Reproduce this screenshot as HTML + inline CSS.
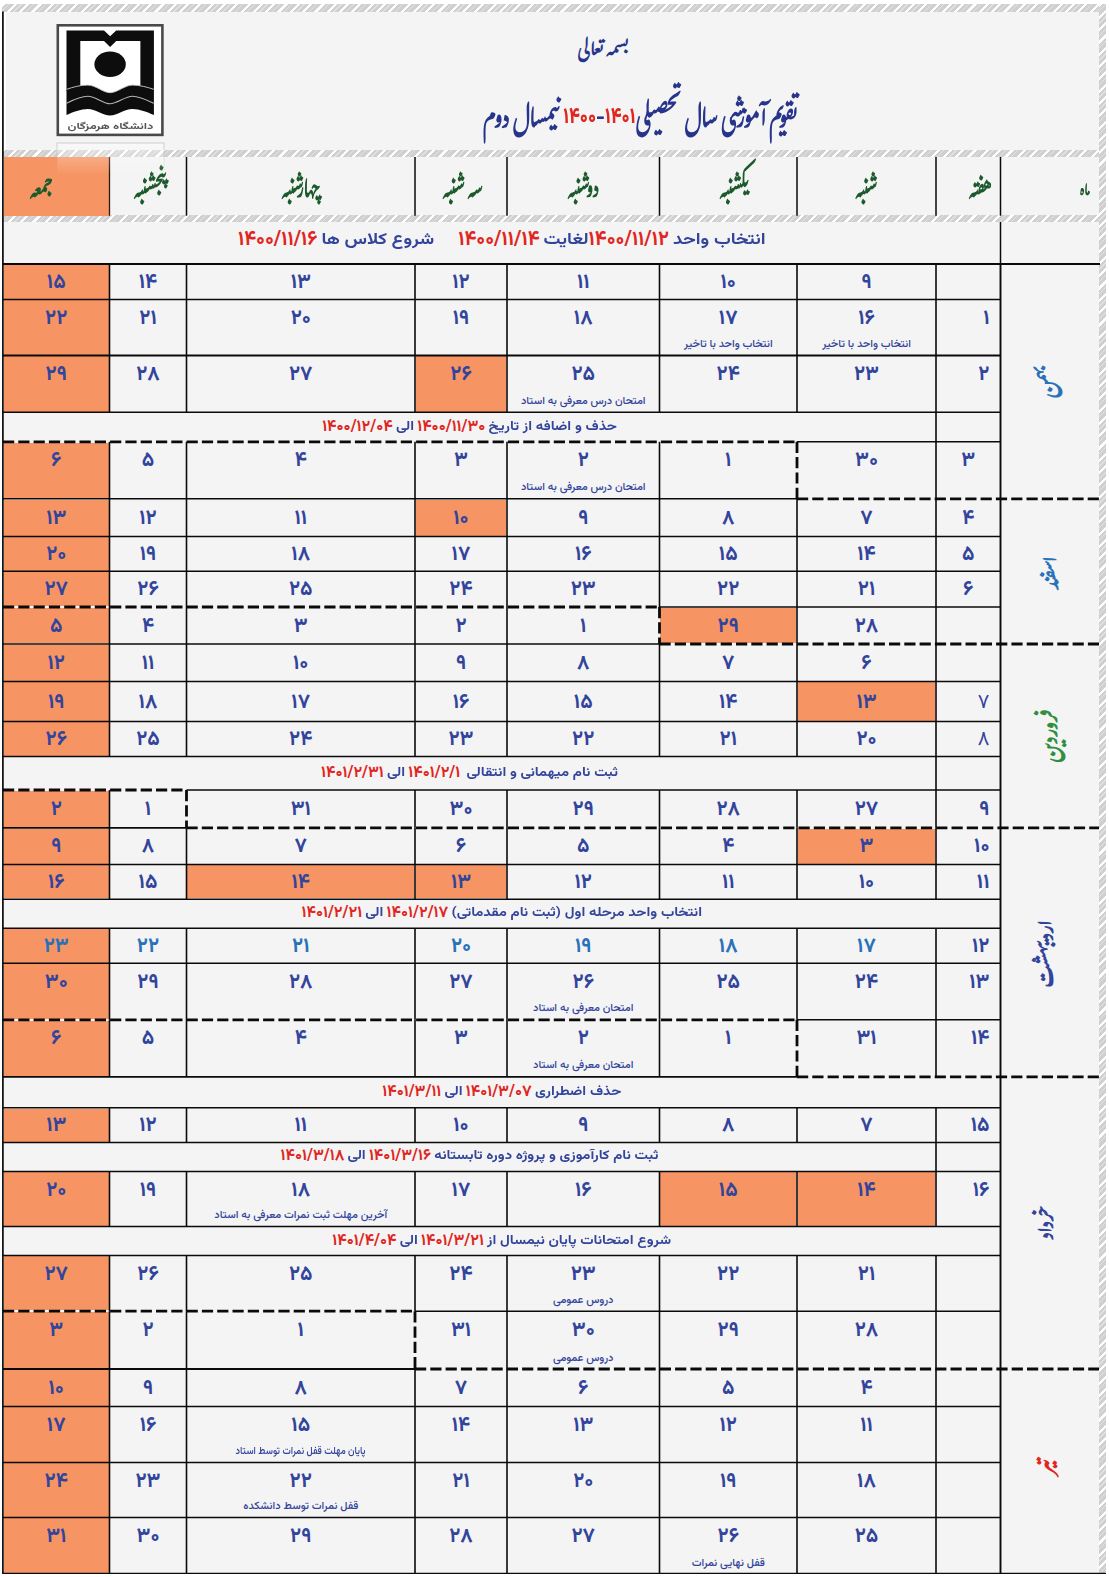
<!DOCTYPE html>
<html lang="fa"><head><meta charset="utf-8"><title>تقویم آموزشی</title>
<style>
html,body{margin:0;padding:0;background:#fff;}
body{width:1109px;height:1577px;position:relative;overflow:hidden;font-family:"Vazirmatn","Liberation Sans","DejaVu Sans",sans-serif;}
#pg{position:absolute;left:0;top:0;width:1109px;height:1577px;overflow:hidden;}
#pg div{position:absolute;}
.bg{background:#f4f4f4;}
.or{background:#f69563;}
.ln{background:#0a0a0a;}
.hd{background:repeating-linear-gradient(90deg,#0a0a0a 0 11px,transparent 11px 15.3px);}
.vd{background:repeating-linear-gradient(180deg,#0a0a0a 0 11px,transparent 11px 15.3px);}
.hat,.hatv{background:repeating-linear-gradient(135deg,#fff 0 2.2px,#d0d0d0 2.2px 4.6px,#e2e2e2 4.6px 5.6px,#d0d0d0 5.6px 8.7px);}
.num{color:#32449b;font-weight:660;font-size:20.5px;line-height:40px;text-align:center;direction:rtl;white-space:nowrap;}
.num.br{color:#2a72b8;}
.note{color:#32449b;font-family:"Vazirmatn","DejaVu Sans",sans-serif;font-weight:500;font-size:11px;line-height:18px;text-align:center;direction:rtl;white-space:nowrap;}
.info{color:#32449b;font-family:"Vazirmatn","DejaVu Sans",sans-serif;font-weight:700;font-size:12.6px;text-align:center;direction:rtl;white-space:nowrap;display:flex;align-items:center;justify-content:center;}
.note .cn{display:inline-block;font-style:normal;transform:scaleX(0.85);}
.info b.r{color:#e0261e;font-weight:700;font-size:1.27em;}
.info .t{display:inline-block;font-size:1.18em;transform:scaleY(0.85);}
.hc{color:#1c5a2c;font-family:"Gulzar","Noto Nastaliq Urdu","DejaVu Sans",sans-serif;font-size:19px;line-height:58px;text-align:center;direction:rtl;white-space:nowrap;font-weight:700;transform:scaleY(1.34);}
.ln2{background:#5a3a2a;}
.mon{font-family:"Gulzar","Noto Nastaliq Urdu","DejaVu Sans",sans-serif;font-size:22px;line-height:40px;text-align:center;direction:rtl;white-space:nowrap;transform:rotate(-90deg);font-weight:700;}
.ttl{color:#27348b;font-family:"Gulzar","Noto Nastaliq Urdu","DejaVu Sans",sans-serif;direction:rtl;white-space:nowrap;text-align:center;font-weight:700;}
.tn{font-family:"Vazirmatn","DejaVu Sans",sans-serif;font-weight:800;font-size:22px;font-style:normal;position:relative;top:-4px;}
b.tn{color:#e0261e;}
</style></head><body><div id="pg">
<div class="bg" style="left:6px;top:11.5px;width:1093.5px;height:140px;"></div>
<div class="bg" style="left:4px;top:157px;width:1095.5px;height:59px;"></div>
<div class="bg" style="left:4px;top:222px;width:1095.5px;height:1352px;"></div>
<div class="hat" style="left:2px;top:4px;width:1104px;height:7.6px;"></div>
<div class="hat" style="left:2px;top:150px;width:1104px;height:7.3px;"></div>
<div class="hat" style="left:2px;top:215px;width:1104px;height:7px;"></div>
<div class="hatv" style="left:1098.8px;top:4px;width:7.4px;height:1570px;"></div>
<div class="or" style="left:4px;top:157px;width:105.5px;height:58.7px;"></div>
<div class="hc" style="left:-9px;top:163.5px;width:100px;height:58.7px;"><span>جمعه</span></div>
<div class="hc" style="left:100px;top:163.5px;width:100px;height:58.7px;"><span>پنجشنبه</span></div>
<div class="hc" style="left:251px;top:163.5px;width:100px;height:58.7px;"><span>چهارشنبه</span></div>
<div class="hc" style="left:412.5px;top:163.5px;width:100px;height:58.7px;"><span>سه شنبه</span></div>
<div class="hc" style="left:533px;top:163.5px;width:100px;height:58.7px;"><span>دوشنبه</span></div>
<div class="hc" style="left:684px;top:163.5px;width:100px;height:58.7px;"><span>یکشنبه</span></div>
<div class="hc" style="left:816px;top:163.5px;width:100px;height:58.7px;"><span>شنبه</span></div>
<div class="hc" style="left:930px;top:163.5px;width:100px;height:58.7px;"><span>هفته</span></div>
<div class="hc" style="left:1035px;top:163.5px;width:100px;height:58.7px;font-size:15px;transform:scaleY(1.1);"><span>ماه</span></div>
<div class="info" style="left:3px;top:219px;width:997.5px;height:42px;font-size:15.85px;"><span><span class="t">انتخاب واحد</span> <b class="r">۱۴۰۰/۱۱/۱۲</b><span class="t">لغایت</span> <b class="r">۱۴۰۰/۱۱/۱۴</b>&nbsp;&nbsp;&nbsp;&nbsp;&nbsp; <span class="t">شروع کلاس ها</span> <b class="r">۱۴۰۰/۱۱/۱۶</b></span></div>
<div class="or" style="left:4px;top:264.75px;width:105px;height:34px;"></div>
<div class="num" style="left:3px;top:262.75px;width:106.5px;height:40px;"><span>۱۵</span></div>
<div class="num" style="left:109.5px;top:262.75px;width:77px;height:40px;"><span>۱۴</span></div>
<div class="num" style="left:186.5px;top:262.75px;width:228.5px;height:40px;"><span>۱۳</span></div>
<div class="num" style="left:415px;top:262.75px;width:92px;height:40px;"><span>۱۲</span></div>
<div class="num" style="left:507px;top:262.75px;width:152.5px;height:40px;"><span>۱۱</span></div>
<div class="num" style="left:659.5px;top:262.75px;width:137.5px;height:40px;"><span>۱۰</span></div>
<div class="num" style="left:797px;top:262.75px;width:139px;height:40px;"><span>۹</span></div>
<div class="or" style="left:4px;top:300.25px;width:105px;height:54.5px;"></div>
<div class="num" style="left:3px;top:298.8px;width:106.5px;height:40px;"><span>۲۲</span></div>
<div class="num" style="left:109.5px;top:298.8px;width:77px;height:40px;"><span>۲۱</span></div>
<div class="num" style="left:186.5px;top:298.8px;width:228.5px;height:40px;"><span>۲۰</span></div>
<div class="num" style="left:415px;top:298.8px;width:92px;height:40px;"><span>۱۹</span></div>
<div class="num" style="left:507px;top:298.8px;width:152.5px;height:40px;"><span>۱۸</span></div>
<div class="num" style="left:659.5px;top:298.8px;width:137.5px;height:40px;"><span>۱۷</span></div>
<div class="note" style="left:629.5px;top:336px;width:197.5px;height:18px;"><span>انتخاب واحد با تاخیر</span></div>
<div class="num" style="left:797px;top:298.8px;width:139px;height:40px;"><span>۱۶</span></div>
<div class="note" style="left:767px;top:336px;width:199px;height:18px;"><span>انتخاب واحد با تاخیر</span></div>
<div class="num" style="left:936px;top:298.8px;width:64.5px;height:40px;text-align:right;padding-right:11px;box-sizing:border-box;"><span>۱</span></div>
<div class="or" style="left:4px;top:356.25px;width:105px;height:55.3px;"></div>
<div class="or" style="left:415.75px;top:356.25px;width:90.5px;height:55.3px;"></div>
<div class="num" style="left:3px;top:354.8px;width:106.5px;height:40px;"><span>۲۹</span></div>
<div class="num" style="left:109.5px;top:354.8px;width:77px;height:40px;"><span>۲۸</span></div>
<div class="num" style="left:186.5px;top:354.8px;width:228.5px;height:40px;"><span>۲۷</span></div>
<div class="num" style="left:415px;top:354.8px;width:92px;height:40px;"><span>۲۶</span></div>
<div class="num" style="left:507px;top:354.8px;width:152.5px;height:40px;"><span>۲۵</span></div>
<div class="note" style="left:477px;top:392.8px;width:212.5px;height:18px;"><span>امتحان درس معرفی به استاد</span></div>
<div class="num" style="left:659.5px;top:354.8px;width:137.5px;height:40px;"><span>۲۴</span></div>
<div class="num" style="left:797px;top:354.8px;width:139px;height:40px;"><span>۲۳</span></div>
<div class="num" style="left:936px;top:354.8px;width:64.5px;height:40px;text-align:right;padding-right:11px;box-sizing:border-box;"><span>۲</span></div>
<div class="info" style="left:3px;top:412.3px;width:933px;height:29.5px;"><span><span class="t">حذف و اضافه از تاریخ</span> <b class="r">۱۴۰۰/۱۱/۳۰</b> <span class="t">الی</span> <b class="r">۱۴۰۰/۱۲/۰۴</b></span></div>
<div class="or" style="left:4px;top:442.55px;width:105px;height:55.5px;"></div>
<div class="num" style="left:3px;top:441.1px;width:106.5px;height:40px;"><span>۶</span></div>
<div class="num" style="left:109.5px;top:441.1px;width:77px;height:40px;"><span>۵</span></div>
<div class="num" style="left:186.5px;top:441.1px;width:228.5px;height:40px;"><span>۴</span></div>
<div class="num" style="left:415px;top:441.1px;width:92px;height:40px;"><span>۳</span></div>
<div class="num" style="left:507px;top:441.1px;width:152.5px;height:40px;"><span>۲</span></div>
<div class="note" style="left:477px;top:479.3px;width:212.5px;height:18px;"><span>امتحان درس  معرفی به استاد</span></div>
<div class="num" style="left:659.5px;top:441.1px;width:137.5px;height:40px;"><span>۱</span></div>
<div class="num" style="left:797px;top:441.1px;width:139px;height:40px;"><span>۳۰</span></div>
<div class="num" style="left:936px;top:441.1px;width:64.5px;height:40px;"><span>۳</span></div>
<div class="or" style="left:4px;top:499.55px;width:105px;height:36.3px;"></div>
<div class="or" style="left:415.75px;top:499.55px;width:90.5px;height:36.3px;"></div>
<div class="num" style="left:3px;top:498.7px;width:106.5px;height:40px;"><span>۱۳</span></div>
<div class="num" style="left:109.5px;top:498.7px;width:77px;height:40px;"><span>۱۲</span></div>
<div class="num" style="left:186.5px;top:498.7px;width:228.5px;height:40px;"><span>۱۱</span></div>
<div class="num" style="left:415px;top:498.7px;width:92px;height:40px;"><span>۱۰</span></div>
<div class="num" style="left:507px;top:498.7px;width:152.5px;height:40px;"><span>۹</span></div>
<div class="num" style="left:659.5px;top:498.7px;width:137.5px;height:40px;"><span>۸</span></div>
<div class="num" style="left:797px;top:498.7px;width:139px;height:40px;"><span>۷</span></div>
<div class="num" style="left:936px;top:498.7px;width:64.5px;height:40px;"><span>۴</span></div>
<div class="or" style="left:4px;top:537.35px;width:105px;height:33.2px;"></div>
<div class="num" style="left:3px;top:534.95px;width:106.5px;height:40px;"><span>۲۰</span></div>
<div class="num" style="left:109.5px;top:534.95px;width:77px;height:40px;"><span>۱۹</span></div>
<div class="num" style="left:186.5px;top:534.95px;width:228.5px;height:40px;"><span>۱۸</span></div>
<div class="num" style="left:415px;top:534.95px;width:92px;height:40px;"><span>۱۷</span></div>
<div class="num" style="left:507px;top:534.95px;width:152.5px;height:40px;"><span>۱۶</span></div>
<div class="num" style="left:659.5px;top:534.95px;width:137.5px;height:40px;"><span>۱۵</span></div>
<div class="num" style="left:797px;top:534.95px;width:139px;height:40px;"><span>۱۴</span></div>
<div class="num" style="left:936px;top:534.95px;width:64.5px;height:40px;"><span>۵</span></div>
<div class="or" style="left:4px;top:572.05px;width:105px;height:34.2px;"></div>
<div class="num" style="left:3px;top:570.15px;width:106.5px;height:40px;"><span>۲۷</span></div>
<div class="num" style="left:109.5px;top:570.15px;width:77px;height:40px;"><span>۲۶</span></div>
<div class="num" style="left:186.5px;top:570.15px;width:228.5px;height:40px;"><span>۲۵</span></div>
<div class="num" style="left:415px;top:570.15px;width:92px;height:40px;"><span>۲۴</span></div>
<div class="num" style="left:507px;top:570.15px;width:152.5px;height:40px;"><span>۲۳</span></div>
<div class="num" style="left:659.5px;top:570.15px;width:137.5px;height:40px;"><span>۲۲</span></div>
<div class="num" style="left:797px;top:570.15px;width:139px;height:40px;"><span>۲۱</span></div>
<div class="num" style="left:936px;top:570.15px;width:64.5px;height:40px;"><span>۶</span></div>
<div class="or" style="left:4px;top:607.75px;width:105px;height:35.5px;"></div>
<div class="or" style="left:660.25px;top:607.75px;width:136px;height:35.5px;"></div>
<div class="num" style="left:3px;top:606.5px;width:106.5px;height:40px;"><span>۵</span></div>
<div class="num" style="left:109.5px;top:606.5px;width:77px;height:40px;"><span>۴</span></div>
<div class="num" style="left:186.5px;top:606.5px;width:228.5px;height:40px;"><span>۳</span></div>
<div class="num" style="left:415px;top:606.5px;width:92px;height:40px;"><span>۲</span></div>
<div class="num" style="left:507px;top:606.5px;width:152.5px;height:40px;"><span>۱</span></div>
<div class="num" style="left:659.5px;top:606.5px;width:137.5px;height:40px;"><span>۲۹</span></div>
<div class="num" style="left:797px;top:606.5px;width:139px;height:40px;"><span>۲۸</span></div>
<div class="or" style="left:4px;top:644.75px;width:105px;height:36.1px;"></div>
<div class="num" style="left:3px;top:643.8px;width:106.5px;height:40px;"><span>۱۲</span></div>
<div class="num" style="left:109.5px;top:643.8px;width:77px;height:40px;"><span>۱۱</span></div>
<div class="num" style="left:186.5px;top:643.8px;width:228.5px;height:40px;"><span>۱۰</span></div>
<div class="num" style="left:415px;top:643.8px;width:92px;height:40px;"><span>۹</span></div>
<div class="num" style="left:507px;top:643.8px;width:152.5px;height:40px;"><span>۸</span></div>
<div class="num" style="left:659.5px;top:643.8px;width:137.5px;height:40px;"><span>۷</span></div>
<div class="num" style="left:797px;top:643.8px;width:139px;height:40px;"><span>۶</span></div>
<div class="or" style="left:4px;top:682.35px;width:105px;height:38.5px;"></div>
<div class="or" style="left:797.75px;top:682.35px;width:137.5px;height:38.5px;"></div>
<div class="num" style="left:3px;top:682.6px;width:106.5px;height:40px;"><span>۱۹</span></div>
<div class="num" style="left:109.5px;top:682.6px;width:77px;height:40px;"><span>۱۸</span></div>
<div class="num" style="left:186.5px;top:682.6px;width:228.5px;height:40px;"><span>۱۷</span></div>
<div class="num" style="left:415px;top:682.6px;width:92px;height:40px;"><span>۱۶</span></div>
<div class="num" style="left:507px;top:682.6px;width:152.5px;height:40px;"><span>۱۵</span></div>
<div class="num" style="left:659.5px;top:682.6px;width:137.5px;height:40px;"><span>۱۴</span></div>
<div class="num" style="left:797px;top:682.6px;width:139px;height:40px;"><span>۱۳</span></div>
<div class="num" style="left:936px;top:682.6px;width:64.5px;height:40px;text-align:right;padding-right:11px;box-sizing:border-box;font-weight:400;"><span>۷</span></div>
<div class="or" style="left:4px;top:722.35px;width:105px;height:33.4px;"></div>
<div class="num" style="left:3px;top:720.05px;width:106.5px;height:40px;"><span>۲۶</span></div>
<div class="num" style="left:109.5px;top:720.05px;width:77px;height:40px;"><span>۲۵</span></div>
<div class="num" style="left:186.5px;top:720.05px;width:228.5px;height:40px;"><span>۲۴</span></div>
<div class="num" style="left:415px;top:720.05px;width:92px;height:40px;"><span>۲۳</span></div>
<div class="num" style="left:507px;top:720.05px;width:152.5px;height:40px;"><span>۲۲</span></div>
<div class="num" style="left:659.5px;top:720.05px;width:137.5px;height:40px;"><span>۲۱</span></div>
<div class="num" style="left:797px;top:720.05px;width:139px;height:40px;"><span>۲۰</span></div>
<div class="num" style="left:936px;top:720.05px;width:64.5px;height:40px;text-align:right;padding-right:11px;box-sizing:border-box;font-weight:400;"><span>۸</span></div>
<div class="info" style="left:3px;top:756.5px;width:933px;height:33.5px;"><span><span class="t">ثبت نام میهمانی و انتقالی</span>&nbsp; <b class="r">۱۴۰۱/۲/۱</b> <span class="t">الی</span> <b class="r">۱۴۰۱/۲/۳۱</b></span></div>
<div class="or" style="left:4px;top:790.75px;width:105px;height:36.3px;"></div>
<div class="num" style="left:3px;top:789.9px;width:106.5px;height:40px;"><span>۲</span></div>
<div class="num" style="left:109.5px;top:789.9px;width:77px;height:40px;"><span>۱</span></div>
<div class="num" style="left:186.5px;top:789.9px;width:228.5px;height:40px;"><span>۳۱</span></div>
<div class="num" style="left:415px;top:789.9px;width:92px;height:40px;"><span>۳۰</span></div>
<div class="num" style="left:507px;top:789.9px;width:152.5px;height:40px;"><span>۲۹</span></div>
<div class="num" style="left:659.5px;top:789.9px;width:137.5px;height:40px;"><span>۲۸</span></div>
<div class="num" style="left:797px;top:789.9px;width:139px;height:40px;"><span>۲۷</span></div>
<div class="num" style="left:936px;top:789.9px;width:64.5px;height:40px;text-align:right;padding-right:11px;box-sizing:border-box;"><span>۹</span></div>
<div class="or" style="left:4px;top:828.55px;width:105px;height:35.1px;"></div>
<div class="or" style="left:797.75px;top:828.55px;width:137.5px;height:35.1px;"></div>
<div class="num" style="left:3px;top:827.1px;width:106.5px;height:40px;"><span>۹</span></div>
<div class="num" style="left:109.5px;top:827.1px;width:77px;height:40px;"><span>۸</span></div>
<div class="num" style="left:186.5px;top:827.1px;width:228.5px;height:40px;"><span>۷</span></div>
<div class="num" style="left:415px;top:827.1px;width:92px;height:40px;"><span>۶</span></div>
<div class="num" style="left:507px;top:827.1px;width:152.5px;height:40px;"><span>۵</span></div>
<div class="num" style="left:659.5px;top:827.1px;width:137.5px;height:40px;"><span>۴</span></div>
<div class="num" style="left:797px;top:827.1px;width:139px;height:40px;"><span>۳</span></div>
<div class="num" style="left:936px;top:827.1px;width:64.5px;height:40px;text-align:right;padding-right:11px;box-sizing:border-box;"><span>۱۰</span></div>
<div class="or" style="left:4px;top:865.15px;width:105px;height:33.3px;"></div>
<div class="or" style="left:187.25px;top:865.15px;width:227px;height:33.3px;"></div>
<div class="or" style="left:415.75px;top:865.15px;width:90.5px;height:33.3px;"></div>
<div class="num" style="left:3px;top:862.8px;width:106.5px;height:40px;"><span>۱۶</span></div>
<div class="num" style="left:109.5px;top:862.8px;width:77px;height:40px;"><span>۱۵</span></div>
<div class="num" style="left:186.5px;top:862.8px;width:228.5px;height:40px;"><span>۱۴</span></div>
<div class="num" style="left:415px;top:862.8px;width:92px;height:40px;"><span>۱۳</span></div>
<div class="num" style="left:507px;top:862.8px;width:152.5px;height:40px;"><span>۱۲</span></div>
<div class="num" style="left:659.5px;top:862.8px;width:137.5px;height:40px;"><span>۱۱</span></div>
<div class="num" style="left:797px;top:862.8px;width:139px;height:40px;"><span>۱۰</span></div>
<div class="num" style="left:936px;top:862.8px;width:64.5px;height:40px;text-align:right;padding-right:11px;box-sizing:border-box;"><span>۱۱</span></div>
<div class="info" style="left:3px;top:899.2px;width:997.5px;height:29.1px;"><span><span class="t">انتخاب واحد مرحله اول (ثبت نام مقدماتی)</span> <b class="r">۱۴۰۱/۲/۱۷</b> <span class="t">الی</span> <b class="r">۱۴۰۱/۲/۲۱</b></span></div>
<div class="or" style="left:4px;top:929.05px;width:105px;height:33.5px;"></div>
<div class="num br" style="left:3px;top:926.8px;width:106.5px;height:40px;"><span>۲۳</span></div>
<div class="num br" style="left:109.5px;top:926.8px;width:77px;height:40px;"><span>۲۲</span></div>
<div class="num br" style="left:186.5px;top:926.8px;width:228.5px;height:40px;"><span>۲۱</span></div>
<div class="num br" style="left:415px;top:926.8px;width:92px;height:40px;"><span>۲۰</span></div>
<div class="num br" style="left:507px;top:926.8px;width:152.5px;height:40px;"><span>۱۹</span></div>
<div class="num br" style="left:659.5px;top:926.8px;width:137.5px;height:40px;"><span>۱۸</span></div>
<div class="num br" style="left:797px;top:926.8px;width:139px;height:40px;"><span>۱۷</span></div>
<div class="num" style="left:936px;top:926.8px;width:64.5px;height:40px;text-align:right;padding-right:11px;box-sizing:border-box;"><span>۱۲</span></div>
<div class="or" style="left:4px;top:964.05px;width:105px;height:55px;"></div>
<div class="num" style="left:3px;top:962.6px;width:106.5px;height:40px;"><span>۳۰</span></div>
<div class="num" style="left:109.5px;top:962.6px;width:77px;height:40px;"><span>۲۹</span></div>
<div class="num" style="left:186.5px;top:962.6px;width:228.5px;height:40px;"><span>۲۸</span></div>
<div class="num" style="left:415px;top:962.6px;width:92px;height:40px;"><span>۲۷</span></div>
<div class="num" style="left:507px;top:962.6px;width:152.5px;height:40px;"><span>۲۶</span></div>
<div class="note" style="left:477px;top:1000.3px;width:212.5px;height:18px;"><span>امتحان معرفی به استاد</span></div>
<div class="num" style="left:659.5px;top:962.6px;width:137.5px;height:40px;"><span>۲۵</span></div>
<div class="num" style="left:797px;top:962.6px;width:139px;height:40px;"><span>۲۴</span></div>
<div class="num" style="left:936px;top:962.6px;width:64.5px;height:40px;text-align:right;padding-right:11px;box-sizing:border-box;"><span>۱۳</span></div>
<div class="or" style="left:4px;top:1020.55px;width:105px;height:55.5px;"></div>
<div class="num" style="left:3px;top:1019.1px;width:106.5px;height:40px;"><span>۶</span></div>
<div class="num" style="left:109.5px;top:1019.1px;width:77px;height:40px;"><span>۵</span></div>
<div class="num" style="left:186.5px;top:1019.1px;width:228.5px;height:40px;"><span>۴</span></div>
<div class="num" style="left:415px;top:1019.1px;width:92px;height:40px;"><span>۳</span></div>
<div class="num" style="left:507px;top:1019.1px;width:152.5px;height:40px;"><span>۲</span></div>
<div class="note" style="left:477px;top:1057.3px;width:212.5px;height:18px;"><span>امتحان معرفی به استاد</span></div>
<div class="num" style="left:659.5px;top:1019.1px;width:137.5px;height:40px;"><span>۱</span></div>
<div class="num" style="left:797px;top:1019.1px;width:139px;height:40px;"><span>۳۱</span></div>
<div class="num" style="left:936px;top:1019.1px;width:64.5px;height:40px;text-align:right;padding-right:11px;box-sizing:border-box;"><span>۱۴</span></div>
<div class="info" style="left:3px;top:1076.8px;width:997.5px;height:31px;"><span><span class="t">حذف اضطراری</span> <b class="r">۱۴۰۱/۳/۰۷</b> <span class="t">الی</span> <b class="r">۱۴۰۱/۳/۱۱</b></span></div>
<div class="or" style="left:4px;top:1108.55px;width:105px;height:33.1px;"></div>
<div class="num" style="left:3px;top:1106.1px;width:106.5px;height:40px;"><span>۱۳</span></div>
<div class="num" style="left:109.5px;top:1106.1px;width:77px;height:40px;"><span>۱۲</span></div>
<div class="num" style="left:186.5px;top:1106.1px;width:228.5px;height:40px;"><span>۱۱</span></div>
<div class="num" style="left:415px;top:1106.1px;width:92px;height:40px;"><span>۱۰</span></div>
<div class="num" style="left:507px;top:1106.1px;width:152.5px;height:40px;"><span>۹</span></div>
<div class="num" style="left:659.5px;top:1106.1px;width:137.5px;height:40px;"><span>۸</span></div>
<div class="num" style="left:797px;top:1106.1px;width:139px;height:40px;"><span>۷</span></div>
<div class="num" style="left:936px;top:1106.1px;width:64.5px;height:40px;text-align:right;padding-right:11px;box-sizing:border-box;"><span>۱۵</span></div>
<div class="info" style="left:3px;top:1142.4px;width:933px;height:29.1px;"><span><span class="t">ثبت نام کارآموزی و پروژه دوره تابستانه</span> <b class="r">۱۴۰۱/۳/۱۶</b> <span class="t">الی</span> <b class="r">۱۴۰۱/۳/۱۸</b></span></div>
<div class="or" style="left:4px;top:1172.25px;width:105px;height:53.5px;"></div>
<div class="or" style="left:660.25px;top:1172.25px;width:136px;height:53.5px;"></div>
<div class="or" style="left:797.75px;top:1172.25px;width:137.5px;height:53.5px;"></div>
<div class="num" style="left:3px;top:1170.8px;width:106.5px;height:40px;"><span>۲۰</span></div>
<div class="num" style="left:109.5px;top:1170.8px;width:77px;height:40px;"><span>۱۹</span></div>
<div class="num" style="left:186.5px;top:1170.8px;width:228.5px;height:40px;"><span>۱۸</span></div>
<div class="note" style="left:156.5px;top:1207px;width:288.5px;height:18px;"><span>آخرین مهلت ثبت نمرات معرفی به استاد</span></div>
<div class="num" style="left:415px;top:1170.8px;width:92px;height:40px;"><span>۱۷</span></div>
<div class="num" style="left:507px;top:1170.8px;width:152.5px;height:40px;"><span>۱۶</span></div>
<div class="num" style="left:659.5px;top:1170.8px;width:137.5px;height:40px;"><span>۱۵</span></div>
<div class="num" style="left:797px;top:1170.8px;width:139px;height:40px;"><span>۱۴</span></div>
<div class="num" style="left:936px;top:1170.8px;width:64.5px;height:40px;text-align:right;padding-right:11px;box-sizing:border-box;"><span>۱۶</span></div>
<div class="info" style="left:3px;top:1226.5px;width:997.5px;height:29px;"><span><span class="t">شروع امتحانات پایان نیمسال از</span> <b class="r">۱۴۰۱/۳/۲۱</b> <span class="t">الی</span> <b class="r">۱۴۰۱/۴/۰۴</b></span></div>
<div class="or" style="left:4px;top:1256.25px;width:105px;height:54.2px;"></div>
<div class="num" style="left:3px;top:1254.8px;width:106.5px;height:40px;"><span>۲۷</span></div>
<div class="num" style="left:109.5px;top:1254.8px;width:77px;height:40px;"><span>۲۶</span></div>
<div class="num" style="left:186.5px;top:1254.8px;width:228.5px;height:40px;"><span>۲۵</span></div>
<div class="num" style="left:415px;top:1254.8px;width:92px;height:40px;"><span>۲۴</span></div>
<div class="num" style="left:507px;top:1254.8px;width:152.5px;height:40px;"><span>۲۳</span></div>
<div class="note" style="left:477px;top:1291.7px;width:212.5px;height:18px;"><span>دروس عمومی</span></div>
<div class="num" style="left:659.5px;top:1254.8px;width:137.5px;height:40px;"><span>۲۲</span></div>
<div class="num" style="left:797px;top:1254.8px;width:139px;height:40px;"><span>۲۱</span></div>
<div class="or" style="left:4px;top:1311.95px;width:105px;height:56.3px;"></div>
<div class="num" style="left:3px;top:1310.5px;width:106.5px;height:40px;"><span>۳</span></div>
<div class="num" style="left:109.5px;top:1310.5px;width:77px;height:40px;"><span>۲</span></div>
<div class="num" style="left:186.5px;top:1310.5px;width:228.5px;height:40px;"><span>۱</span></div>
<div class="num" style="left:415px;top:1310.5px;width:92px;height:40px;"><span>۳۱</span></div>
<div class="num" style="left:507px;top:1310.5px;width:152.5px;height:40px;"><span>۳۰</span></div>
<div class="note" style="left:477px;top:1349.5px;width:212.5px;height:18px;"><span>دروس عمومی</span></div>
<div class="num" style="left:659.5px;top:1310.5px;width:137.5px;height:40px;"><span>۲۹</span></div>
<div class="num" style="left:797px;top:1310.5px;width:139px;height:40px;"><span>۲۸</span></div>
<div class="or" style="left:4px;top:1369.75px;width:105px;height:36px;"></div>
<div class="num" style="left:3px;top:1368.75px;width:106.5px;height:40px;"><span>۱۰</span></div>
<div class="num" style="left:109.5px;top:1368.75px;width:77px;height:40px;"><span>۹</span></div>
<div class="num" style="left:186.5px;top:1368.75px;width:228.5px;height:40px;"><span>۸</span></div>
<div class="num" style="left:415px;top:1368.75px;width:92px;height:40px;"><span>۷</span></div>
<div class="num" style="left:507px;top:1368.75px;width:152.5px;height:40px;"><span>۶</span></div>
<div class="num" style="left:659.5px;top:1368.75px;width:137.5px;height:40px;"><span>۵</span></div>
<div class="num" style="left:797px;top:1368.75px;width:139px;height:40px;"><span>۴</span></div>
<div class="or" style="left:4px;top:1407.25px;width:105px;height:54.6px;"></div>
<div class="num" style="left:3px;top:1405.8px;width:106.5px;height:40px;"><span>۱۷</span></div>
<div class="num" style="left:109.5px;top:1405.8px;width:77px;height:40px;"><span>۱۶</span></div>
<div class="num" style="left:186.5px;top:1405.8px;width:228.5px;height:40px;"><span>۱۵</span></div>
<div class="note" style="left:156.5px;top:1443.1px;width:288.5px;height:18px;"><span><i class="cn">پایان مهلت قفل نمرات توسط استاد</i></span></div>
<div class="num" style="left:415px;top:1405.8px;width:92px;height:40px;"><span>۱۴</span></div>
<div class="num" style="left:507px;top:1405.8px;width:152.5px;height:40px;"><span>۱۳</span></div>
<div class="num" style="left:659.5px;top:1405.8px;width:137.5px;height:40px;"><span>۱۲</span></div>
<div class="num" style="left:797px;top:1405.8px;width:139px;height:40px;"><span>۱۱</span></div>
<div class="or" style="left:4px;top:1463.35px;width:105px;height:53.3px;"></div>
<div class="num" style="left:3px;top:1461.9px;width:106.5px;height:40px;"><span>۲۴</span></div>
<div class="num" style="left:109.5px;top:1461.9px;width:77px;height:40px;"><span>۲۳</span></div>
<div class="num" style="left:186.5px;top:1461.9px;width:228.5px;height:40px;"><span>۲۲</span></div>
<div class="note" style="left:156.5px;top:1497.9px;width:288.5px;height:18px;"><span>قفل نمرات توسط دانشکده</span></div>
<div class="num" style="left:415px;top:1461.9px;width:92px;height:40px;"><span>۲۱</span></div>
<div class="num" style="left:507px;top:1461.9px;width:152.5px;height:40px;"><span>۲۰</span></div>
<div class="num" style="left:659.5px;top:1461.9px;width:137.5px;height:40px;"><span>۱۹</span></div>
<div class="num" style="left:797px;top:1461.9px;width:139px;height:40px;"><span>۱۸</span></div>
<div class="or" style="left:4px;top:1518.15px;width:105px;height:55.1px;"></div>
<div class="num" style="left:3px;top:1516.7px;width:106.5px;height:40px;"><span>۳۱</span></div>
<div class="num" style="left:109.5px;top:1516.7px;width:77px;height:40px;"><span>۳۰</span></div>
<div class="num" style="left:186.5px;top:1516.7px;width:228.5px;height:40px;"><span>۲۹</span></div>
<div class="num" style="left:415px;top:1516.7px;width:92px;height:40px;"><span>۲۸</span></div>
<div class="num" style="left:507px;top:1516.7px;width:152.5px;height:40px;"><span>۲۷</span></div>
<div class="num" style="left:659.5px;top:1516.7px;width:137.5px;height:40px;"><span>۲۶</span></div>
<div class="note" style="left:629.5px;top:1554.5px;width:197.5px;height:18px;"><span>قفل نهایی نمرات</span></div>
<div class="num" style="left:797px;top:1516.7px;width:139px;height:40px;"><span>۲۵</span></div>
<div class="mon" style="left:1011px;top:362px;width:80px;height:40px;color:#2a72b8;"><span>بهمن</span></div>
<div class="mon" style="left:1015px;top:553.5px;width:80px;height:40px;color:#2a72b8;"><span>اسفند</span></div>
<div class="mon" style="left:1014px;top:716px;width:80px;height:40px;color:#2f8f3e;"><span>فروردین</span></div>
<div class="mon" style="left:1010px;top:934px;width:80px;height:40px;color:#32449b;"><span>اردیبهشت</span></div>
<div class="mon" style="left:1010px;top:1203px;width:80px;height:40px;color:#32449b;"><span>خرداد</span></div>
<div class="mon" style="left:1011px;top:1447px;width:80px;height:40px;color:#e0261e;"><span>تیر</span></div>
<svg style="position:absolute;left:0;top:0" width="1109" height="1577" viewBox="0 0 1109 1577"><g stroke="#0a0a0a" fill="none"><line x1="2.9" y1="11.5" x2="2.9" y2="1574" stroke-width="1.7"/><line x1="109.5" y1="157" x2="109.5" y2="215.7" stroke-width="1.3" stroke="#2a1a10"/><line x1="186.5" y1="157" x2="186.5" y2="215.7" stroke-width="1.5"/><line x1="415" y1="157" x2="415" y2="215.7" stroke-width="1.5"/><line x1="507" y1="157" x2="507" y2="215.7" stroke-width="1.5"/><line x1="659.5" y1="157" x2="659.5" y2="215.7" stroke-width="1.5"/><line x1="797" y1="157" x2="797" y2="215.7" stroke-width="1.5"/><line x1="936" y1="157" x2="936" y2="215.7" stroke-width="1.5"/><line x1="1000.5" y1="157" x2="1000.5" y2="215.7" stroke-width="1.5"/><line x1="1000.5" y1="222" x2="1000.5" y2="264" stroke-width="1.5"/><line x1="3" y1="264" x2="1100" y2="264" stroke-width="2.2"/><line x1="3" y1="299.5" x2="1000.5" y2="299.5" stroke-width="1.5"/><line x1="3" y1="355.5" x2="1000.5" y2="355.5" stroke-width="1.8"/><line x1="3" y1="412.3" x2="1000.5" y2="412.3" stroke-width="1.5"/><line x1="3" y1="441.8" x2="797" y2="441.8" stroke-width="2.8" stroke-dasharray="11.2 4.1"/><line x1="797" y1="441.8" x2="1000.5" y2="441.8" stroke-width="1.5"/><line x1="797" y1="498.8" x2="1099" y2="498.8" stroke-width="2.8" stroke-dasharray="11.2 4.1"/><line x1="3" y1="498.8" x2="797" y2="498.8" stroke-width="1.6"/><line x1="3" y1="536.6" x2="1000.5" y2="536.6" stroke-width="1.5"/><line x1="3" y1="571.3" x2="1000.5" y2="571.3" stroke-width="1.5"/><line x1="3" y1="607" x2="659.5" y2="607" stroke-width="2.8" stroke-dasharray="11.2 4.1"/><line x1="659.5" y1="607" x2="1000.5" y2="607" stroke-width="1.5"/><line x1="659.5" y1="644" x2="1099" y2="644" stroke-width="2.8" stroke-dasharray="11.2 4.1"/><line x1="3" y1="644" x2="659.5" y2="644" stroke-width="1.6"/><line x1="3" y1="681.6" x2="1000.5" y2="681.6" stroke-width="1.5"/><line x1="3" y1="721.6" x2="1000.5" y2="721.6" stroke-width="1.5"/><line x1="3" y1="756.5" x2="1000.5" y2="756.5" stroke-width="1.5"/><line x1="3" y1="790" x2="186.5" y2="790" stroke-width="2.8" stroke-dasharray="11.2 4.1"/><line x1="186.5" y1="790" x2="1000.5" y2="790" stroke-width="1.5"/><line x1="186.5" y1="827.8" x2="1099" y2="827.8" stroke-width="2.8" stroke-dasharray="11.2 4.1"/><line x1="3" y1="827.8" x2="186.5" y2="827.8" stroke-width="1.8"/><line x1="3" y1="864.4" x2="1000.5" y2="864.4" stroke-width="1.5"/><line x1="3" y1="899.2" x2="1000.5" y2="899.2" stroke-width="1.5"/><line x1="3" y1="928.3" x2="1000.5" y2="928.3" stroke-width="1.5"/><line x1="3" y1="963.3" x2="1000.5" y2="963.3" stroke-width="1.5"/><line x1="3" y1="1019.8" x2="797" y2="1019.8" stroke-width="2.8" stroke-dasharray="11.2 4.1"/><line x1="797" y1="1019.8" x2="1000.5" y2="1019.8" stroke-width="1.5"/><line x1="797" y1="1076.8" x2="1099" y2="1076.8" stroke-width="2.8" stroke-dasharray="11.2 4.1"/><line x1="3" y1="1076.8" x2="797" y2="1076.8" stroke-width="1.8"/><line x1="3" y1="1107.8" x2="1000.5" y2="1107.8" stroke-width="1.5"/><line x1="3" y1="1142.4" x2="1000.5" y2="1142.4" stroke-width="1.5"/><line x1="3" y1="1171.5" x2="1000.5" y2="1171.5" stroke-width="1.5"/><line x1="3" y1="1226.5" x2="1000.5" y2="1226.5" stroke-width="1.5"/><line x1="3" y1="1255.5" x2="1000.5" y2="1255.5" stroke-width="1.5"/><line x1="3" y1="1311.2" x2="415" y2="1311.2" stroke-width="2.8" stroke-dasharray="11.2 4.1"/><line x1="415" y1="1311.2" x2="1000.5" y2="1311.2" stroke-width="1.5"/><line x1="415" y1="1369" x2="1099" y2="1369" stroke-width="2.8" stroke-dasharray="11.2 4.1"/><line x1="3" y1="1369" x2="415" y2="1369" stroke-width="1.8"/><line x1="3" y1="1406.5" x2="1000.5" y2="1406.5" stroke-width="1.5"/><line x1="3" y1="1462.6" x2="1000.5" y2="1462.6" stroke-width="1.5"/><line x1="3" y1="1517.4" x2="1000.5" y2="1517.4" stroke-width="1.5"/><line x1="3" y1="1573.4" x2="1106" y2="1573.4" stroke-width="1.2"/><line x1="797" y1="441.8" x2="797" y2="498.8" stroke-width="2.8" stroke-dasharray="11.2 4.1"/><line x1="659.5" y1="607" x2="659.5" y2="644" stroke-width="2.8" stroke-dasharray="11.2 4.1"/><line x1="186.5" y1="790" x2="186.5" y2="827.8" stroke-width="2.8" stroke-dasharray="11.2 4.1"/><line x1="797" y1="1019.8" x2="797" y2="1076.8" stroke-width="2.8" stroke-dasharray="11.2 4.1"/><line x1="415" y1="1311.2" x2="415" y2="1369" stroke-width="2.8" stroke-dasharray="11.2 4.1"/><line x1="109.5" y1="264" x2="109.5" y2="299.5" stroke-width="1.6"/><line x1="186.5" y1="264" x2="186.5" y2="299.5" stroke-width="1.6"/><line x1="415" y1="264" x2="415" y2="299.5" stroke-width="1.6"/><line x1="507" y1="264" x2="507" y2="299.5" stroke-width="1.6"/><line x1="659.5" y1="264" x2="659.5" y2="299.5" stroke-width="1.6"/><line x1="797" y1="264" x2="797" y2="299.5" stroke-width="1.6"/><line x1="936" y1="264" x2="936" y2="299.5" stroke-width="1.6"/><line x1="109.5" y1="299.5" x2="109.5" y2="355.5" stroke-width="1.6"/><line x1="186.5" y1="299.5" x2="186.5" y2="355.5" stroke-width="1.6"/><line x1="415" y1="299.5" x2="415" y2="355.5" stroke-width="1.6"/><line x1="507" y1="299.5" x2="507" y2="355.5" stroke-width="1.6"/><line x1="659.5" y1="299.5" x2="659.5" y2="355.5" stroke-width="1.6"/><line x1="797" y1="299.5" x2="797" y2="355.5" stroke-width="1.6"/><line x1="936" y1="299.5" x2="936" y2="355.5" stroke-width="1.6"/><line x1="109.5" y1="355.5" x2="109.5" y2="412.3" stroke-width="1.6"/><line x1="186.5" y1="355.5" x2="186.5" y2="412.3" stroke-width="1.6"/><line x1="415" y1="355.5" x2="415" y2="412.3" stroke-width="1.6"/><line x1="507" y1="355.5" x2="507" y2="412.3" stroke-width="1.6"/><line x1="659.5" y1="355.5" x2="659.5" y2="412.3" stroke-width="1.6"/><line x1="797" y1="355.5" x2="797" y2="412.3" stroke-width="1.6"/><line x1="936" y1="355.5" x2="936" y2="412.3" stroke-width="1.6"/><line x1="936" y1="412.3" x2="936" y2="441.8" stroke-width="1.6"/><line x1="109.5" y1="441.8" x2="109.5" y2="498.8" stroke-width="1.6"/><line x1="186.5" y1="441.8" x2="186.5" y2="498.8" stroke-width="1.6"/><line x1="415" y1="441.8" x2="415" y2="498.8" stroke-width="1.6"/><line x1="507" y1="441.8" x2="507" y2="498.8" stroke-width="1.6"/><line x1="659.5" y1="441.8" x2="659.5" y2="498.8" stroke-width="1.6"/><line x1="936" y1="441.8" x2="936" y2="498.8" stroke-width="1.6"/><line x1="109.5" y1="498.8" x2="109.5" y2="536.6" stroke-width="1.6"/><line x1="186.5" y1="498.8" x2="186.5" y2="536.6" stroke-width="1.6"/><line x1="415" y1="498.8" x2="415" y2="536.6" stroke-width="1.6"/><line x1="507" y1="498.8" x2="507" y2="536.6" stroke-width="1.6"/><line x1="659.5" y1="498.8" x2="659.5" y2="536.6" stroke-width="1.6"/><line x1="797" y1="498.8" x2="797" y2="536.6" stroke-width="1.6"/><line x1="936" y1="498.8" x2="936" y2="536.6" stroke-width="1.6"/><line x1="109.5" y1="536.6" x2="109.5" y2="571.3" stroke-width="1.6"/><line x1="186.5" y1="536.6" x2="186.5" y2="571.3" stroke-width="1.6"/><line x1="415" y1="536.6" x2="415" y2="571.3" stroke-width="1.6"/><line x1="507" y1="536.6" x2="507" y2="571.3" stroke-width="1.6"/><line x1="659.5" y1="536.6" x2="659.5" y2="571.3" stroke-width="1.6"/><line x1="797" y1="536.6" x2="797" y2="571.3" stroke-width="1.6"/><line x1="936" y1="536.6" x2="936" y2="571.3" stroke-width="1.6"/><line x1="109.5" y1="571.3" x2="109.5" y2="607" stroke-width="1.6"/><line x1="186.5" y1="571.3" x2="186.5" y2="607" stroke-width="1.6"/><line x1="415" y1="571.3" x2="415" y2="607" stroke-width="1.6"/><line x1="507" y1="571.3" x2="507" y2="607" stroke-width="1.6"/><line x1="659.5" y1="571.3" x2="659.5" y2="607" stroke-width="1.6"/><line x1="797" y1="571.3" x2="797" y2="607" stroke-width="1.6"/><line x1="936" y1="571.3" x2="936" y2="607" stroke-width="1.6"/><line x1="109.5" y1="607" x2="109.5" y2="644" stroke-width="1.6"/><line x1="186.5" y1="607" x2="186.5" y2="644" stroke-width="1.6"/><line x1="415" y1="607" x2="415" y2="644" stroke-width="1.6"/><line x1="507" y1="607" x2="507" y2="644" stroke-width="1.6"/><line x1="797" y1="607" x2="797" y2="644" stroke-width="1.6"/><line x1="936" y1="607" x2="936" y2="644" stroke-width="1.6"/><line x1="109.5" y1="644" x2="109.5" y2="681.6" stroke-width="1.6"/><line x1="186.5" y1="644" x2="186.5" y2="681.6" stroke-width="1.6"/><line x1="415" y1="644" x2="415" y2="681.6" stroke-width="1.6"/><line x1="507" y1="644" x2="507" y2="681.6" stroke-width="1.6"/><line x1="659.5" y1="644" x2="659.5" y2="681.6" stroke-width="1.6"/><line x1="797" y1="644" x2="797" y2="681.6" stroke-width="1.6"/><line x1="936" y1="644" x2="936" y2="681.6" stroke-width="1.6"/><line x1="109.5" y1="681.6" x2="109.5" y2="721.6" stroke-width="1.6"/><line x1="186.5" y1="681.6" x2="186.5" y2="721.6" stroke-width="1.6"/><line x1="415" y1="681.6" x2="415" y2="721.6" stroke-width="1.6"/><line x1="507" y1="681.6" x2="507" y2="721.6" stroke-width="1.6"/><line x1="659.5" y1="681.6" x2="659.5" y2="721.6" stroke-width="1.6"/><line x1="797" y1="681.6" x2="797" y2="721.6" stroke-width="1.6"/><line x1="936" y1="681.6" x2="936" y2="721.6" stroke-width="1.6"/><line x1="109.5" y1="721.6" x2="109.5" y2="756.5" stroke-width="1.6"/><line x1="186.5" y1="721.6" x2="186.5" y2="756.5" stroke-width="1.6"/><line x1="415" y1="721.6" x2="415" y2="756.5" stroke-width="1.6"/><line x1="507" y1="721.6" x2="507" y2="756.5" stroke-width="1.6"/><line x1="659.5" y1="721.6" x2="659.5" y2="756.5" stroke-width="1.6"/><line x1="797" y1="721.6" x2="797" y2="756.5" stroke-width="1.6"/><line x1="936" y1="721.6" x2="936" y2="756.5" stroke-width="1.6"/><line x1="936" y1="756.5" x2="936" y2="790" stroke-width="1.6"/><line x1="109.5" y1="790" x2="109.5" y2="827.8" stroke-width="1.6"/><line x1="415" y1="790" x2="415" y2="827.8" stroke-width="1.6"/><line x1="507" y1="790" x2="507" y2="827.8" stroke-width="1.6"/><line x1="659.5" y1="790" x2="659.5" y2="827.8" stroke-width="1.6"/><line x1="797" y1="790" x2="797" y2="827.8" stroke-width="1.6"/><line x1="936" y1="790" x2="936" y2="827.8" stroke-width="1.6"/><line x1="109.5" y1="827.8" x2="109.5" y2="864.4" stroke-width="1.6"/><line x1="186.5" y1="827.8" x2="186.5" y2="864.4" stroke-width="1.6"/><line x1="415" y1="827.8" x2="415" y2="864.4" stroke-width="1.6"/><line x1="507" y1="827.8" x2="507" y2="864.4" stroke-width="1.6"/><line x1="659.5" y1="827.8" x2="659.5" y2="864.4" stroke-width="1.6"/><line x1="797" y1="827.8" x2="797" y2="864.4" stroke-width="1.6"/><line x1="936" y1="827.8" x2="936" y2="864.4" stroke-width="1.6"/><line x1="109.5" y1="864.4" x2="109.5" y2="899.2" stroke-width="1.6"/><line x1="186.5" y1="864.4" x2="186.5" y2="899.2" stroke-width="1.6"/><line x1="415" y1="864.4" x2="415" y2="899.2" stroke-width="1.6"/><line x1="507" y1="864.4" x2="507" y2="899.2" stroke-width="1.6"/><line x1="659.5" y1="864.4" x2="659.5" y2="899.2" stroke-width="1.6"/><line x1="797" y1="864.4" x2="797" y2="899.2" stroke-width="1.6"/><line x1="936" y1="864.4" x2="936" y2="899.2" stroke-width="1.6"/><line x1="109.5" y1="928.3" x2="109.5" y2="963.3" stroke-width="1.6"/><line x1="186.5" y1="928.3" x2="186.5" y2="963.3" stroke-width="1.6"/><line x1="415" y1="928.3" x2="415" y2="963.3" stroke-width="1.6"/><line x1="507" y1="928.3" x2="507" y2="963.3" stroke-width="1.6"/><line x1="659.5" y1="928.3" x2="659.5" y2="963.3" stroke-width="1.6"/><line x1="797" y1="928.3" x2="797" y2="963.3" stroke-width="1.6"/><line x1="936" y1="928.3" x2="936" y2="963.3" stroke-width="1.6"/><line x1="109.5" y1="963.3" x2="109.5" y2="1019.8" stroke-width="1.6"/><line x1="186.5" y1="963.3" x2="186.5" y2="1019.8" stroke-width="1.6"/><line x1="415" y1="963.3" x2="415" y2="1019.8" stroke-width="1.6"/><line x1="507" y1="963.3" x2="507" y2="1019.8" stroke-width="1.6"/><line x1="659.5" y1="963.3" x2="659.5" y2="1019.8" stroke-width="1.6"/><line x1="797" y1="963.3" x2="797" y2="1019.8" stroke-width="1.6"/><line x1="936" y1="963.3" x2="936" y2="1019.8" stroke-width="1.6"/><line x1="109.5" y1="1019.8" x2="109.5" y2="1076.8" stroke-width="1.6"/><line x1="186.5" y1="1019.8" x2="186.5" y2="1076.8" stroke-width="1.6"/><line x1="415" y1="1019.8" x2="415" y2="1076.8" stroke-width="1.6"/><line x1="507" y1="1019.8" x2="507" y2="1076.8" stroke-width="1.6"/><line x1="659.5" y1="1019.8" x2="659.5" y2="1076.8" stroke-width="1.6"/><line x1="936" y1="1019.8" x2="936" y2="1076.8" stroke-width="1.6"/><line x1="109.5" y1="1107.8" x2="109.5" y2="1142.4" stroke-width="1.6"/><line x1="186.5" y1="1107.8" x2="186.5" y2="1142.4" stroke-width="1.6"/><line x1="415" y1="1107.8" x2="415" y2="1142.4" stroke-width="1.6"/><line x1="507" y1="1107.8" x2="507" y2="1142.4" stroke-width="1.6"/><line x1="659.5" y1="1107.8" x2="659.5" y2="1142.4" stroke-width="1.6"/><line x1="797" y1="1107.8" x2="797" y2="1142.4" stroke-width="1.6"/><line x1="936" y1="1107.8" x2="936" y2="1142.4" stroke-width="1.6"/><line x1="936" y1="1142.4" x2="936" y2="1171.5" stroke-width="1.6"/><line x1="109.5" y1="1171.5" x2="109.5" y2="1226.5" stroke-width="1.6"/><line x1="186.5" y1="1171.5" x2="186.5" y2="1226.5" stroke-width="1.6"/><line x1="415" y1="1171.5" x2="415" y2="1226.5" stroke-width="1.6"/><line x1="507" y1="1171.5" x2="507" y2="1226.5" stroke-width="1.6"/><line x1="659.5" y1="1171.5" x2="659.5" y2="1226.5" stroke-width="1.6"/><line x1="797" y1="1171.5" x2="797" y2="1226.5" stroke-width="1.6"/><line x1="936" y1="1171.5" x2="936" y2="1226.5" stroke-width="1.6"/><line x1="109.5" y1="1255.5" x2="109.5" y2="1311.2" stroke-width="1.6"/><line x1="186.5" y1="1255.5" x2="186.5" y2="1311.2" stroke-width="1.6"/><line x1="415" y1="1255.5" x2="415" y2="1311.2" stroke-width="1.6"/><line x1="507" y1="1255.5" x2="507" y2="1311.2" stroke-width="1.6"/><line x1="659.5" y1="1255.5" x2="659.5" y2="1311.2" stroke-width="1.6"/><line x1="797" y1="1255.5" x2="797" y2="1311.2" stroke-width="1.6"/><line x1="936" y1="1255.5" x2="936" y2="1311.2" stroke-width="1.6"/><line x1="109.5" y1="1311.2" x2="109.5" y2="1369" stroke-width="1.6"/><line x1="186.5" y1="1311.2" x2="186.5" y2="1369" stroke-width="1.6"/><line x1="507" y1="1311.2" x2="507" y2="1369" stroke-width="1.6"/><line x1="659.5" y1="1311.2" x2="659.5" y2="1369" stroke-width="1.6"/><line x1="797" y1="1311.2" x2="797" y2="1369" stroke-width="1.6"/><line x1="936" y1="1311.2" x2="936" y2="1369" stroke-width="1.6"/><line x1="109.5" y1="1369" x2="109.5" y2="1406.5" stroke-width="1.6"/><line x1="186.5" y1="1369" x2="186.5" y2="1406.5" stroke-width="1.6"/><line x1="415" y1="1369" x2="415" y2="1406.5" stroke-width="1.6"/><line x1="507" y1="1369" x2="507" y2="1406.5" stroke-width="1.6"/><line x1="659.5" y1="1369" x2="659.5" y2="1406.5" stroke-width="1.6"/><line x1="797" y1="1369" x2="797" y2="1406.5" stroke-width="1.6"/><line x1="936" y1="1369" x2="936" y2="1406.5" stroke-width="1.6"/><line x1="109.5" y1="1406.5" x2="109.5" y2="1462.6" stroke-width="1.6"/><line x1="186.5" y1="1406.5" x2="186.5" y2="1462.6" stroke-width="1.6"/><line x1="415" y1="1406.5" x2="415" y2="1462.6" stroke-width="1.6"/><line x1="507" y1="1406.5" x2="507" y2="1462.6" stroke-width="1.6"/><line x1="659.5" y1="1406.5" x2="659.5" y2="1462.6" stroke-width="1.6"/><line x1="797" y1="1406.5" x2="797" y2="1462.6" stroke-width="1.6"/><line x1="936" y1="1406.5" x2="936" y2="1462.6" stroke-width="1.6"/><line x1="109.5" y1="1462.6" x2="109.5" y2="1517.4" stroke-width="1.6"/><line x1="186.5" y1="1462.6" x2="186.5" y2="1517.4" stroke-width="1.6"/><line x1="415" y1="1462.6" x2="415" y2="1517.4" stroke-width="1.6"/><line x1="507" y1="1462.6" x2="507" y2="1517.4" stroke-width="1.6"/><line x1="659.5" y1="1462.6" x2="659.5" y2="1517.4" stroke-width="1.6"/><line x1="797" y1="1462.6" x2="797" y2="1517.4" stroke-width="1.6"/><line x1="936" y1="1462.6" x2="936" y2="1517.4" stroke-width="1.6"/><line x1="109.5" y1="1517.4" x2="109.5" y2="1574" stroke-width="1.6"/><line x1="186.5" y1="1517.4" x2="186.5" y2="1574" stroke-width="1.6"/><line x1="415" y1="1517.4" x2="415" y2="1574" stroke-width="1.6"/><line x1="507" y1="1517.4" x2="507" y2="1574" stroke-width="1.6"/><line x1="659.5" y1="1517.4" x2="659.5" y2="1574" stroke-width="1.6"/><line x1="797" y1="1517.4" x2="797" y2="1574" stroke-width="1.6"/><line x1="936" y1="1517.4" x2="936" y2="1574" stroke-width="1.6"/><line x1="1000.5" y1="264" x2="1000.5" y2="1574" stroke-width="1.9"/></g></svg>
<div class="ttl" style="left:503px;top:32px;width:200px;height:40px;font-size:19px;line-height:40px;">بسمه تعالی</div>
<div class="ttl" style="left:240px;top:92px;width:800px;height:60px;font-size:28px;line-height:60px;text-align:center;transform:scaleX(0.83);">تقویم آموزشی سال تحصیلی<b class="tn">۱۴۰۱</b><i class="tn">-</i><b class="tn">۱۴۰۰</b> نیمسال دوم</div>
<svg style="position:absolute;left:40px;top:10px;overflow:visible" width="140" height="175" viewBox="40 10 140 175">
<defs><filter id="bl" x="-5%" y="-5%" width="110%" height="110%"><feGaussianBlur stdDeviation="0.55"/></filter>
<linearGradient id="rf" x1="0" y1="0" x2="0" y2="1"><stop offset="0" stop-color="#fff" stop-opacity="0.38"/><stop offset="1" stop-color="#fff" stop-opacity="0"/></linearGradient>
<linearGradient id="rs" x1="0" y1="0" x2="0" y2="1"><stop offset="0" stop-color="#999" stop-opacity="0.3"/><stop offset="1" stop-color="#999" stop-opacity="0"/></linearGradient></defs>
<rect x="57" y="143" width="107" height="32" fill="url(#rf)"/>
<rect x="57" y="143" width="107" height="32" fill="none" stroke="url(#rs)" stroke-width="1.5"/>
<g filter="url(#bl)">
<rect x="57.8" y="25.3" width="104.6" height="109.6" fill="#fff" stroke="#4a4a4a" stroke-width="2.6"/>
<path d="M66.5,30.4 L104,30.4 L110.1,36.2 L116.2,30.4 L153.9,30.4 L153.9,91 L140.4,86 L140.4,41 L116.2,41 L110.1,47 L104,41 L80.3,41 L80.3,86 L66.5,91 Z" fill="#0b0b0b"/>
<ellipse cx="110.1" cy="64.2" rx="15.7" ry="12.8" fill="#0b0b0b"/>
<path d="M66.5,89.4 C73,87 80,85.1 87.9,85.1 S103,92.7 110.1,92.7 S125,85.1 132.3,85.1 S147,87 153.9,89.4 L153.9,114.9 C147,112 140,108.9 132.3,108.9 S117,115.4 110.1,115.4 S95,108.9 87.9,108.9 S73,112 66.5,114.9 Z" fill="#0b0b0b"/>
<path d="M66.5,89.4 C73,87 80,85.1 87.9,85.1 S103,92.7 110.1,92.7 S125,85.1 132.3,85.1 S147,87 153.9,89.4" fill="none" stroke="#cfcfcf" stroke-width="0.9"/>
<path d="M66.5,103.3 C73,100 80,96.3 87.9,96.3 S103,103.8 110.1,103.8 S125,96.3 132.3,96.3 S147,100 153.9,103.3" fill="none" stroke="#b5b5b5" stroke-width="1.1"/>
<text x="110.5" y="129.3" text-anchor="middle" direction="rtl" font-family="'Vazirmatn','DejaVu Sans',sans-serif" font-weight="700" font-size="9.2" fill="#555" textLength="86" lengthAdjust="spacingAndGlyphs">دانشگاه هرمزگان</text>
</g></svg>

</div></body></html>
